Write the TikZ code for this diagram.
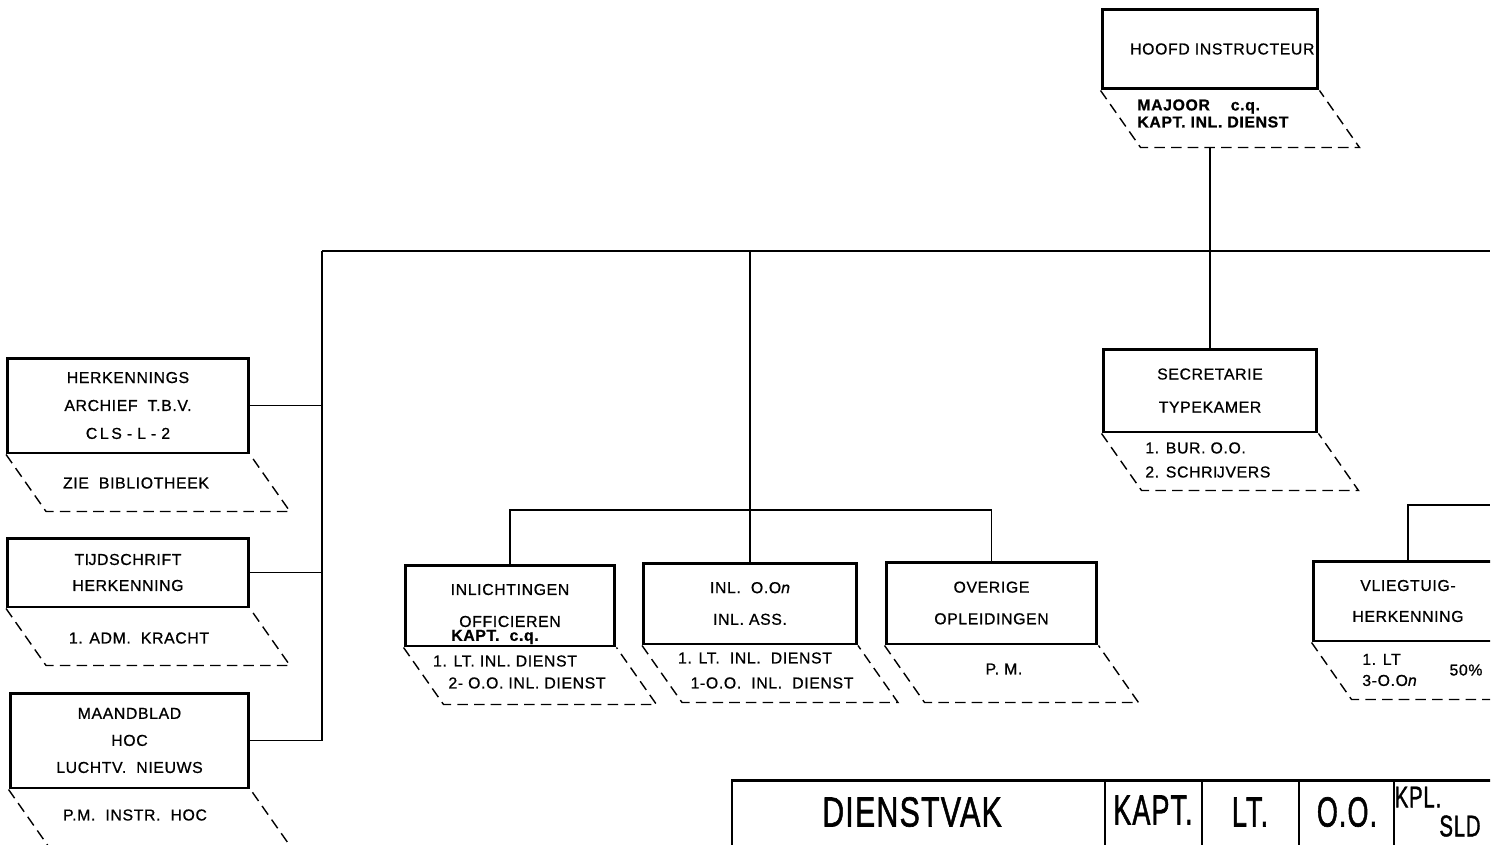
\documentclass[tikz,border=0pt]{standalone}
\usepackage{fontspec}
\setmainfont{Liberation Sans}[LetterSpace=4,FakeBold=0.8]
\usepackage{graphicx}
\usetikzlibrary{positioning,calc}
\tikzset{
unitbox/.style={
draw,
line width=1.7pt,
inner sep=0pt,
align=center,
font=\fontsize{9}{#1}\selectfont
},
unitbox/.default=16,
subtext/.style={
inner sep=0pt,
align=left,
font=\fontsize{9}{#1}\selectfont
},
subtext/.default=11,
tabtext/.style={
inner sep=0pt,
font=\fontsize{24}{24}\selectfont\addfontfeatures{FakeBold=1.5}
},
wire/.style={
line width=0.9pt
},
dashside/.style={
line width=0.8pt,
dash pattern=on 6pt off 3.5pt
}
}

\begin{document}
\begin{tikzpicture}[x=0.02cm,y=-0.02cm]
\path[use as bounding box,fill=white](0,0) rectangle (1502,845);
\clip (0,0) rectangle (1490,845);

\node[unitbox,minimum width=4.32cm,minimum height=1.6cm](hoofd) at (1210,49){\hspace*{14pt}HOOFD INSTRUCTEUR};
\node[unitbox=18.8,minimum width=4.28cm,minimum height=1.66cm](secr) at (1210,390.5){SECRETARIE\\TYPEKAMER};
\node[unitbox=15.9,minimum width=4.82cm,minimum height=1.9cm](herk) at (128,405.5){HERKENNINGS\\ARCHIEF \ T.B.V.\\C\,L\,S - L - 2};
\node[unitbox=14.8,minimum width=4.82cm,minimum height=1.38cm](tijd) at (128,572.5){TĲDSCHRIFT\\HERKENNING};
\node[unitbox=15.4,minimum width=4.78cm,minimum height=1.9cm](maand) at (129.5,740.5){MAANDBLAD\\HOC\\LUCHTV. \ NIEUWS};
\node[unitbox=18.2,minimum width=4.2cm,minimum height=1.62cm](inlo) at (510,605.5){INLICHTINGEN\\OFFICIEREN};
\node[unitbox=18,minimum width=4.26cm,minimum height=1.62cm](inla) at (750,603.5){INL. \ O.O{\itshape n}\\INL. ASS.};
\node[unitbox=18,minimum width=4.22cm,minimum height=1.64cm](over) at (991.5,603){OVERIGE\\OPLEIDINGEN};
\node[unitbox=17.6,minimum width=3.8cm,minimum height=1.6cm](vlieg) at (1408,601){VLIEGTUIG-\\HERKENNING};

\foreach \n in {hoofd,herk,tijd,maand,inlo,inla,over,secr,vlieg}
\draw[dashside](\n.south west)--++(40,57)--($(\n.south east)+(40,57)$)--(\n.south east);

\node[subtext=9.7,anchor=west,font=\fontsize{9}{9.7}\selectfont\bfseries](hoofdsub) at (1137,113.5){MAJOOR \quad c.q.\\KAPT. INL. DIENST};
\node[subtext](herksub) at (136,483){ZIE \ BIBLIOTHEEK};
\node[subtext](tijdsub) at (139,638){1. ADM. \ KRACHT};
\node[subtext](maandsub) at (135,815){P.M. \ INSTR. \ HOC};
\node[subtext,font=\fontsize{9}{11}\selectfont\bfseries](inlosub) at (495,637){KAPT. \ c.q.};
\node[subtext](inlosubb) at (505,661){1. LT. INL. DIENST};
\node[subtext](inlosubc) at (527,683){2- O.O. INL. DIENST};
\node[subtext](inlasub) at (755,658){1. LT. \ INL. \ DIENST};
\node[subtext](inlasubb) at (772,683){1-O.O. \ INL. \ DIENST};
\node[subtext](oversub) at (1004,669){P. M.};
\node[subtext=13.7,anchor=west](secrsub) at (1145,460){1. BUR. O.O.\\2. SCHRĲVERS};
\node[subtext=12,anchor=west](vliegsub) at (1362,670){1. LT\\3-O.O{\itshape n}};
\node[subtext](vliegpct) at (1466,670){50\%};

\coordinate (hoofdfoot) at ($(hoofd.south)+(0,57)$);
\coordinate (busleft) at (322,251);
\coordinate (busright) at (1490,251);
\coordinate (busmid) at (750,251);
\coordinate (fork) at (750,510);
\coordinate (vliegright) at (1490,505);
\draw[wire](hoofdfoot)--(secr.north);
\draw[wire](busleft)--(busright);
\draw[wire](busleft)|-(maand.east);
\draw[wire](herk.east)--(herk.east -| busleft);
\draw[wire](tijd.east)--(tijd.east -| busleft);
\draw[wire](busmid)--(fork)--(inla.north);
\draw[wire](inlo.north)|-(fork)-|(over.north);
\draw[wire](vlieg.north)|-(vliegright);

\draw[line width=1.7pt](732,870)--(732,780)--(1500,780);
\foreach \x in {1105,1202,1299,1394}
\draw[line width=1.2pt](\x,780)--(\x,870);
\node[tabtext](dienst) at (912,812){\scalebox{0.72}[1]{DIENSTVAK}};
\node[tabtext](kapt) at (1153,810){\scalebox{0.64}[1]{KAPT.}};
\node[tabtext](lt) at (1250,812){\scalebox{0.64}[1]{LT.}};
\node[tabtext](oo) at (1347,812){\scalebox{0.64}[1]{O.O.}};
\node[tabtext,font=\fontsize{17}{17}\selectfont\addfontfeatures{FakeBold=1.5}](kpl) at (1418,797){\scalebox{0.68}[1]{KPL.}};
\node[tabtext,font=\fontsize{17}{17}\selectfont\addfontfeatures{FakeBold=1.5}](sld) at (1460,826){\scalebox{0.68}[1]{SLD}};
\end{tikzpicture}
\end{document}
